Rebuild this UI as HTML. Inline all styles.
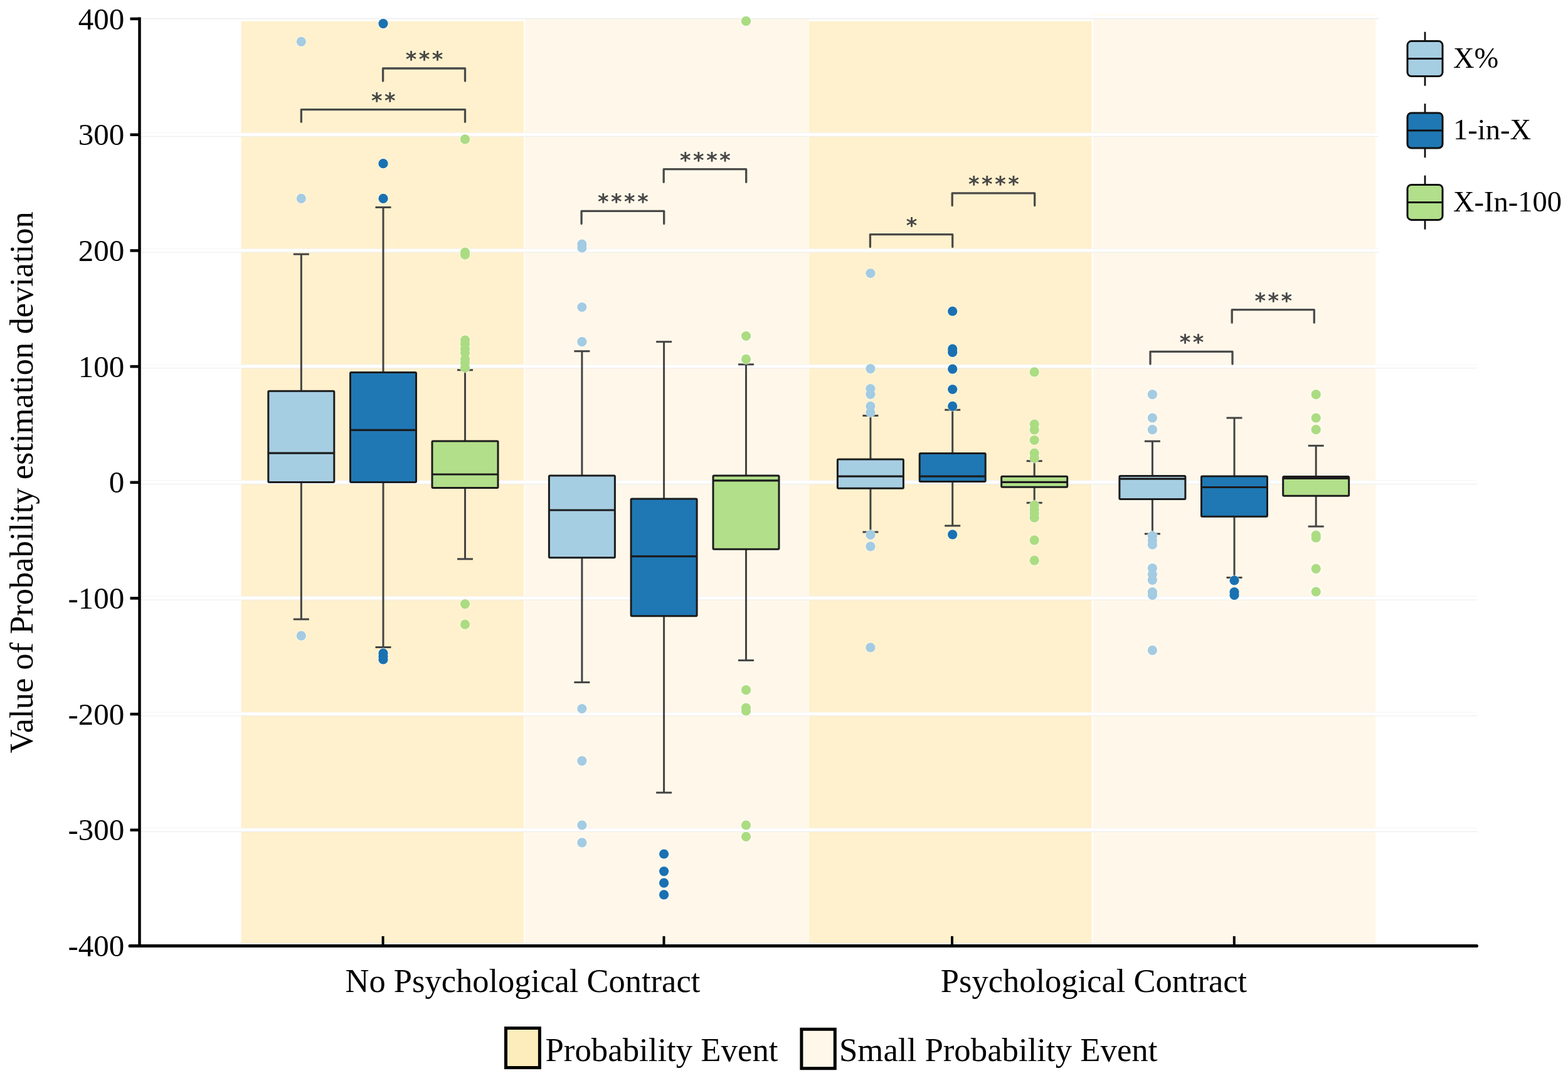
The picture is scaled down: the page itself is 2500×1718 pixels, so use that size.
<!DOCTYPE html>
<html><head><meta charset="utf-8"><title>Box plot</title>
<style>html,body{margin:0;padding:0;background:#fff;}body{width:2500px;height:1718px;overflow:hidden;}svg{display:block;}</style>
</head><body>
<svg width="2500" height="1718" viewBox="0 0 2500 1718">
<rect x="0" y="0" width="2500" height="1718" fill="#ffffff"/>
<rect x="384.5" y="34" width="450.8" height="1469.5" fill="#FFF1CD"/>
<rect x="837" y="30" width="452.7" height="1473.5" fill="#FFF8EA"/>
<rect x="1290" y="34" width="450.5" height="1469.5" fill="#FFF1CD"/>
<rect x="1742.8" y="30.6" width="450.5" height="1472.9" fill="#FFF8EA"/>
<rect x="1742.8" y="22.4" width="450.5" height="2.6" fill="#FFFBF0"/>
<rect x="225" y="29" width="1973" height="1.4" fill="#ececec"/>
<rect x="225" y="211.7" width="1973" height="5.4" fill="#ffffff"/>
<rect x="225" y="211.3" width="1973" height="0.7" fill="#f1f1f1"/>
<rect x="225" y="216.9" width="1973" height="1.0" fill="#ebebeb"/>
<rect x="225" y="396.4" width="1973" height="5.4" fill="#ffffff"/>
<rect x="225" y="396.0" width="1973" height="0.7" fill="#f1f1f1"/>
<rect x="225" y="401.6" width="1973" height="1.0" fill="#ebebeb"/>
<rect x="225" y="581.1" width="2130" height="5.4" fill="#ffffff"/>
<rect x="225" y="580.7" width="2130" height="0.7" fill="#f1f1f1"/>
<rect x="225" y="586.3" width="2130" height="1.0" fill="#ebebeb"/>
<rect x="225" y="765.8" width="2130" height="5.4" fill="#ffffff"/>
<rect x="225" y="765.4" width="2130" height="0.7" fill="#f1f1f1"/>
<rect x="225" y="771.0" width="2130" height="1.0" fill="#ebebeb"/>
<rect x="225" y="950.4" width="2130" height="5.4" fill="#ffffff"/>
<rect x="225" y="950.0" width="2130" height="0.7" fill="#f1f1f1"/>
<rect x="225" y="955.6" width="2130" height="1.0" fill="#ebebeb"/>
<rect x="225" y="1135.1" width="2130" height="5.4" fill="#ffffff"/>
<rect x="225" y="1134.7" width="2130" height="0.7" fill="#f1f1f1"/>
<rect x="225" y="1140.3" width="2130" height="1.0" fill="#ebebeb"/>
<rect x="225" y="1319.8" width="2130" height="5.4" fill="#ffffff"/>
<rect x="225" y="1319.4" width="2130" height="0.7" fill="#f1f1f1"/>
<rect x="225" y="1325.0" width="2130" height="1.0" fill="#ebebeb"/>
<line x1="480.3" y1="405.1" x2="480.3" y2="623.2" stroke="#434343" stroke-width="3"/>
<line x1="480.3" y1="768.6" x2="480.3" y2="986.9" stroke="#434343" stroke-width="3"/>
<line x1="467.8" y1="405.1" x2="492.8" y2="405.1" stroke="#434343" stroke-width="3"/>
<line x1="467.8" y1="986.9" x2="492.8" y2="986.9" stroke="#434343" stroke-width="3"/>
<rect x="427.8" y="623.2" width="105" height="145.4" rx="1.5" fill="#A6CEE3" stroke="#1c1c1c" stroke-width="3"/>
<line x1="427.8" y1="722.2" x2="532.8" y2="722.2" stroke="#1c1c1c" stroke-width="3.2"/>
<circle cx="480.3" cy="66.4" r="8.6" fill="#ffffff" fill-opacity="0.55"/>
<circle cx="480.3" cy="316.4" r="8.6" fill="#ffffff" fill-opacity="0.55"/>
<circle cx="480.3" cy="1013.2" r="8.6" fill="#ffffff" fill-opacity="0.55"/>
<circle cx="480.3" cy="66.4" r="7.6" fill="#A3CBE2"/>
<circle cx="480.3" cy="316.4" r="7.6" fill="#A3CBE2"/>
<circle cx="480.3" cy="1013.2" r="7.6" fill="#A3CBE2"/>
<line x1="611.0" y1="330.4" x2="611.0" y2="593.6" stroke="#434343" stroke-width="3"/>
<line x1="611.0" y1="768.6" x2="611.0" y2="1031.5" stroke="#434343" stroke-width="3"/>
<line x1="598.5" y1="330.4" x2="623.5" y2="330.4" stroke="#434343" stroke-width="3"/>
<line x1="598.5" y1="1031.5" x2="623.5" y2="1031.5" stroke="#434343" stroke-width="3"/>
<rect x="558.5" y="593.6" width="105" height="175.0" rx="1.5" fill="#1F78B4" stroke="#1c1c1c" stroke-width="3"/>
<line x1="558.5" y1="685.3" x2="663.5" y2="685.3" stroke="#1c1c1c" stroke-width="3.2"/>
<circle cx="611.0" cy="37.6" r="8.6" fill="#ffffff" fill-opacity="0.55"/>
<circle cx="611.0" cy="260.7" r="8.6" fill="#ffffff" fill-opacity="0.55"/>
<circle cx="611.0" cy="316.4" r="8.6" fill="#ffffff" fill-opacity="0.55"/>
<circle cx="611.0" cy="1041" r="8.6" fill="#ffffff" fill-opacity="0.55"/>
<circle cx="611.0" cy="1046" r="8.6" fill="#ffffff" fill-opacity="0.55"/>
<circle cx="611.0" cy="1051" r="8.6" fill="#ffffff" fill-opacity="0.55"/>
<circle cx="611.0" cy="37.6" r="7.6" fill="#1A71B1"/>
<circle cx="611.0" cy="260.7" r="7.6" fill="#1A71B1"/>
<circle cx="611.0" cy="316.4" r="7.6" fill="#1A71B1"/>
<circle cx="611.0" cy="1041" r="7.6" fill="#1A71B1"/>
<circle cx="611.0" cy="1046" r="7.6" fill="#1A71B1"/>
<circle cx="611.0" cy="1051" r="7.6" fill="#1A71B1"/>
<line x1="741.5" y1="589.7" x2="741.5" y2="702.9" stroke="#434343" stroke-width="3"/>
<line x1="741.5" y1="777.5" x2="741.5" y2="890.9" stroke="#434343" stroke-width="3"/>
<line x1="729.0" y1="589.7" x2="754.0" y2="589.7" stroke="#434343" stroke-width="3"/>
<line x1="729.0" y1="890.9" x2="754.0" y2="890.9" stroke="#434343" stroke-width="3"/>
<rect x="689.0" y="702.9" width="105" height="74.6" rx="1.5" fill="#B2DF8A" stroke="#1c1c1c" stroke-width="3"/>
<line x1="689.0" y1="756.0" x2="794.0" y2="756.0" stroke="#1c1c1c" stroke-width="3.2"/>
<circle cx="741.5" cy="221.9" r="8.6" fill="#ffffff" fill-opacity="0.55"/>
<circle cx="741.5" cy="402" r="8.6" fill="#ffffff" fill-opacity="0.55"/>
<circle cx="741.5" cy="406" r="8.6" fill="#ffffff" fill-opacity="0.55"/>
<circle cx="741.5" cy="542" r="8.6" fill="#ffffff" fill-opacity="0.55"/>
<circle cx="741.5" cy="548" r="8.6" fill="#ffffff" fill-opacity="0.55"/>
<circle cx="741.5" cy="556" r="8.6" fill="#ffffff" fill-opacity="0.55"/>
<circle cx="741.5" cy="562" r="8.6" fill="#ffffff" fill-opacity="0.55"/>
<circle cx="741.5" cy="572" r="8.6" fill="#ffffff" fill-opacity="0.55"/>
<circle cx="741.5" cy="578" r="8.6" fill="#ffffff" fill-opacity="0.55"/>
<circle cx="741.5" cy="586" r="8.6" fill="#ffffff" fill-opacity="0.55"/>
<circle cx="741.5" cy="962.6" r="8.6" fill="#ffffff" fill-opacity="0.55"/>
<circle cx="741.5" cy="995.1" r="8.6" fill="#ffffff" fill-opacity="0.55"/>
<circle cx="741.5" cy="221.9" r="7.6" fill="#ABDC82"/>
<circle cx="741.5" cy="402" r="7.6" fill="#ABDC82"/>
<circle cx="741.5" cy="406" r="7.6" fill="#ABDC82"/>
<circle cx="741.5" cy="542" r="7.6" fill="#ABDC82"/>
<circle cx="741.5" cy="548" r="7.6" fill="#ABDC82"/>
<circle cx="741.5" cy="556" r="7.6" fill="#ABDC82"/>
<circle cx="741.5" cy="562" r="7.6" fill="#ABDC82"/>
<circle cx="741.5" cy="572" r="7.6" fill="#ABDC82"/>
<circle cx="741.5" cy="578" r="7.6" fill="#ABDC82"/>
<circle cx="741.5" cy="586" r="7.6" fill="#ABDC82"/>
<circle cx="741.5" cy="962.6" r="7.6" fill="#ABDC82"/>
<circle cx="741.5" cy="995.1" r="7.6" fill="#ABDC82"/>
<line x1="927.9" y1="559.7" x2="927.9" y2="757.9" stroke="#434343" stroke-width="3"/>
<line x1="927.9" y1="888.7" x2="927.9" y2="1087.4" stroke="#434343" stroke-width="3"/>
<line x1="915.4" y1="559.7" x2="940.4" y2="559.7" stroke="#434343" stroke-width="3"/>
<line x1="915.4" y1="1087.4" x2="940.4" y2="1087.4" stroke="#434343" stroke-width="3"/>
<rect x="875.4" y="757.9" width="105" height="130.8" rx="1.5" fill="#A6CEE3" stroke="#1c1c1c" stroke-width="3"/>
<line x1="875.4" y1="813.0" x2="980.4" y2="813.0" stroke="#1c1c1c" stroke-width="3.2"/>
<circle cx="927.9" cy="389" r="8.6" fill="#ffffff" fill-opacity="0.55"/>
<circle cx="927.9" cy="395" r="8.6" fill="#ffffff" fill-opacity="0.55"/>
<circle cx="927.9" cy="489.5" r="8.6" fill="#ffffff" fill-opacity="0.55"/>
<circle cx="927.9" cy="544.7" r="8.6" fill="#ffffff" fill-opacity="0.55"/>
<circle cx="927.9" cy="1129.5" r="8.6" fill="#ffffff" fill-opacity="0.55"/>
<circle cx="927.9" cy="1212.6" r="8.6" fill="#ffffff" fill-opacity="0.55"/>
<circle cx="927.9" cy="1315" r="8.6" fill="#ffffff" fill-opacity="0.55"/>
<circle cx="927.9" cy="1342.9" r="8.6" fill="#ffffff" fill-opacity="0.55"/>
<circle cx="927.9" cy="389" r="7.6" fill="#A3CBE2"/>
<circle cx="927.9" cy="395" r="7.6" fill="#A3CBE2"/>
<circle cx="927.9" cy="489.5" r="7.6" fill="#A3CBE2"/>
<circle cx="927.9" cy="544.7" r="7.6" fill="#A3CBE2"/>
<circle cx="927.9" cy="1129.5" r="7.6" fill="#A3CBE2"/>
<circle cx="927.9" cy="1212.6" r="7.6" fill="#A3CBE2"/>
<circle cx="927.9" cy="1315" r="7.6" fill="#A3CBE2"/>
<circle cx="927.9" cy="1342.9" r="7.6" fill="#A3CBE2"/>
<line x1="1058.6" y1="544.7" x2="1058.6" y2="795.0" stroke="#434343" stroke-width="3"/>
<line x1="1058.6" y1="981.8" x2="1058.6" y2="1263.2" stroke="#434343" stroke-width="3"/>
<line x1="1046.1" y1="544.7" x2="1071.1" y2="544.7" stroke="#434343" stroke-width="3"/>
<line x1="1046.1" y1="1263.2" x2="1071.1" y2="1263.2" stroke="#434343" stroke-width="3"/>
<rect x="1006.1" y="795.0" width="105" height="186.8" rx="1.5" fill="#1F78B4" stroke="#1c1c1c" stroke-width="3"/>
<line x1="1006.1" y1="886.6" x2="1111.1" y2="886.6" stroke="#1c1c1c" stroke-width="3.2"/>
<circle cx="1058.6" cy="1361" r="8.6" fill="#ffffff" fill-opacity="0.55"/>
<circle cx="1058.6" cy="1388.6" r="8.6" fill="#ffffff" fill-opacity="0.55"/>
<circle cx="1058.6" cy="1407.2" r="8.6" fill="#ffffff" fill-opacity="0.55"/>
<circle cx="1058.6" cy="1425.9" r="8.6" fill="#ffffff" fill-opacity="0.55"/>
<circle cx="1058.6" cy="1361" r="7.6" fill="#1A71B1"/>
<circle cx="1058.6" cy="1388.6" r="7.6" fill="#1A71B1"/>
<circle cx="1058.6" cy="1407.2" r="7.6" fill="#1A71B1"/>
<circle cx="1058.6" cy="1425.9" r="7.6" fill="#1A71B1"/>
<line x1="1189.5" y1="580.8" x2="1189.5" y2="757.9" stroke="#434343" stroke-width="3"/>
<line x1="1189.5" y1="875.3" x2="1189.5" y2="1052.4" stroke="#434343" stroke-width="3"/>
<line x1="1177.0" y1="580.8" x2="1202.0" y2="580.8" stroke="#434343" stroke-width="3"/>
<line x1="1177.0" y1="1052.4" x2="1202.0" y2="1052.4" stroke="#434343" stroke-width="3"/>
<rect x="1137.0" y="757.9" width="105" height="117.4" rx="1.5" fill="#B2DF8A" stroke="#1c1c1c" stroke-width="3"/>
<line x1="1137.0" y1="765.8" x2="1242.0" y2="765.8" stroke="#1c1c1c" stroke-width="3.2"/>
<circle cx="1189.5" cy="33.7" r="8.6" fill="#ffffff" fill-opacity="0.55"/>
<circle cx="1189.5" cy="535.5" r="8.6" fill="#ffffff" fill-opacity="0.55"/>
<circle cx="1189.5" cy="572.4" r="8.6" fill="#ffffff" fill-opacity="0.55"/>
<circle cx="1189.5" cy="1099.7" r="8.6" fill="#ffffff" fill-opacity="0.55"/>
<circle cx="1189.5" cy="1128" r="8.6" fill="#ffffff" fill-opacity="0.55"/>
<circle cx="1189.5" cy="1133" r="8.6" fill="#ffffff" fill-opacity="0.55"/>
<circle cx="1189.5" cy="1315" r="8.6" fill="#ffffff" fill-opacity="0.55"/>
<circle cx="1189.5" cy="1333.4" r="8.6" fill="#ffffff" fill-opacity="0.55"/>
<circle cx="1189.5" cy="33.7" r="7.6" fill="#ABDC82"/>
<circle cx="1189.5" cy="535.5" r="7.6" fill="#ABDC82"/>
<circle cx="1189.5" cy="572.4" r="7.6" fill="#ABDC82"/>
<circle cx="1189.5" cy="1099.7" r="7.6" fill="#ABDC82"/>
<circle cx="1189.5" cy="1128" r="7.6" fill="#ABDC82"/>
<circle cx="1189.5" cy="1133" r="7.6" fill="#ABDC82"/>
<circle cx="1189.5" cy="1315" r="7.6" fill="#ABDC82"/>
<circle cx="1189.5" cy="1333.4" r="7.6" fill="#ABDC82"/>
<line x1="1387.9" y1="662.4" x2="1387.9" y2="732.1" stroke="#434343" stroke-width="3"/>
<line x1="1387.9" y1="778.2" x2="1387.9" y2="847.9" stroke="#434343" stroke-width="3"/>
<line x1="1375.4" y1="662.4" x2="1400.4" y2="662.4" stroke="#434343" stroke-width="3"/>
<line x1="1375.4" y1="847.9" x2="1400.4" y2="847.9" stroke="#434343" stroke-width="3"/>
<rect x="1335.4" y="732.1" width="105" height="46.1" rx="1.5" fill="#A6CEE3" stroke="#1c1c1c" stroke-width="3"/>
<line x1="1335.4" y1="759.2" x2="1440.4" y2="759.2" stroke="#1c1c1c" stroke-width="3.2"/>
<circle cx="1387.9" cy="435.5" r="8.6" fill="#ffffff" fill-opacity="0.55"/>
<circle cx="1387.9" cy="587.6" r="8.6" fill="#ffffff" fill-opacity="0.55"/>
<circle cx="1387.9" cy="619.5" r="8.6" fill="#ffffff" fill-opacity="0.55"/>
<circle cx="1387.9" cy="628.5" r="8.6" fill="#ffffff" fill-opacity="0.55"/>
<circle cx="1387.9" cy="647.4" r="8.6" fill="#ffffff" fill-opacity="0.55"/>
<circle cx="1387.9" cy="657" r="8.6" fill="#ffffff" fill-opacity="0.55"/>
<circle cx="1387.9" cy="852.4" r="8.6" fill="#ffffff" fill-opacity="0.55"/>
<circle cx="1387.9" cy="870.8" r="8.6" fill="#ffffff" fill-opacity="0.55"/>
<circle cx="1387.9" cy="1031.8" r="8.6" fill="#ffffff" fill-opacity="0.55"/>
<circle cx="1387.9" cy="435.5" r="7.6" fill="#A3CBE2"/>
<circle cx="1387.9" cy="587.6" r="7.6" fill="#A3CBE2"/>
<circle cx="1387.9" cy="619.5" r="7.6" fill="#A3CBE2"/>
<circle cx="1387.9" cy="628.5" r="7.6" fill="#A3CBE2"/>
<circle cx="1387.9" cy="647.4" r="7.6" fill="#A3CBE2"/>
<circle cx="1387.9" cy="657" r="7.6" fill="#A3CBE2"/>
<circle cx="1387.9" cy="852.4" r="7.6" fill="#A3CBE2"/>
<circle cx="1387.9" cy="870.8" r="7.6" fill="#A3CBE2"/>
<circle cx="1387.9" cy="1031.8" r="7.6" fill="#A3CBE2"/>
<line x1="1518.7" y1="653.2" x2="1518.7" y2="722.4" stroke="#434343" stroke-width="3"/>
<line x1="1518.7" y1="767.6" x2="1518.7" y2="837.9" stroke="#434343" stroke-width="3"/>
<line x1="1506.2" y1="653.2" x2="1531.2" y2="653.2" stroke="#434343" stroke-width="3"/>
<line x1="1506.2" y1="837.9" x2="1531.2" y2="837.9" stroke="#434343" stroke-width="3"/>
<rect x="1466.2" y="722.4" width="105" height="45.2" rx="1.5" fill="#1F78B4" stroke="#1c1c1c" stroke-width="3"/>
<line x1="1466.2" y1="759.2" x2="1571.2" y2="759.2" stroke="#1c1c1c" stroke-width="3.2"/>
<circle cx="1518.7" cy="496" r="8.6" fill="#ffffff" fill-opacity="0.55"/>
<circle cx="1518.7" cy="556" r="8.6" fill="#ffffff" fill-opacity="0.55"/>
<circle cx="1518.7" cy="561.5" r="8.6" fill="#ffffff" fill-opacity="0.55"/>
<circle cx="1518.7" cy="588.2" r="8.6" fill="#ffffff" fill-opacity="0.55"/>
<circle cx="1518.7" cy="620.5" r="8.6" fill="#ffffff" fill-opacity="0.55"/>
<circle cx="1518.7" cy="647.4" r="8.6" fill="#ffffff" fill-opacity="0.55"/>
<circle cx="1518.7" cy="851.8" r="8.6" fill="#ffffff" fill-opacity="0.55"/>
<circle cx="1518.7" cy="496" r="7.6" fill="#1A71B1"/>
<circle cx="1518.7" cy="556" r="7.6" fill="#1A71B1"/>
<circle cx="1518.7" cy="561.5" r="7.6" fill="#1A71B1"/>
<circle cx="1518.7" cy="588.2" r="7.6" fill="#1A71B1"/>
<circle cx="1518.7" cy="620.5" r="7.6" fill="#1A71B1"/>
<circle cx="1518.7" cy="647.4" r="7.6" fill="#1A71B1"/>
<circle cx="1518.7" cy="851.8" r="7.6" fill="#1A71B1"/>
<line x1="1649.2" y1="734.7" x2="1649.2" y2="759.2" stroke="#434343" stroke-width="3"/>
<line x1="1649.2" y1="776.3" x2="1649.2" y2="801.3" stroke="#434343" stroke-width="3"/>
<line x1="1636.7" y1="734.7" x2="1661.7" y2="734.7" stroke="#434343" stroke-width="3"/>
<line x1="1636.7" y1="801.3" x2="1661.7" y2="801.3" stroke="#434343" stroke-width="3"/>
<rect x="1596.7" y="759.2" width="105" height="17.1" rx="1.5" fill="#B2DF8A" stroke="#1c1c1c" stroke-width="3"/>
<line x1="1596.7" y1="768.4" x2="1701.7" y2="768.4" stroke="#1c1c1c" stroke-width="3.2"/>
<circle cx="1649.2" cy="592.9" r="8.6" fill="#ffffff" fill-opacity="0.55"/>
<circle cx="1649.2" cy="676" r="8.6" fill="#ffffff" fill-opacity="0.55"/>
<circle cx="1649.2" cy="685" r="8.6" fill="#ffffff" fill-opacity="0.55"/>
<circle cx="1649.2" cy="701.5" r="8.6" fill="#ffffff" fill-opacity="0.55"/>
<circle cx="1649.2" cy="722" r="8.6" fill="#ffffff" fill-opacity="0.55"/>
<circle cx="1649.2" cy="730" r="8.6" fill="#ffffff" fill-opacity="0.55"/>
<circle cx="1649.2" cy="805" r="8.6" fill="#ffffff" fill-opacity="0.55"/>
<circle cx="1649.2" cy="812" r="8.6" fill="#ffffff" fill-opacity="0.55"/>
<circle cx="1649.2" cy="818" r="8.6" fill="#ffffff" fill-opacity="0.55"/>
<circle cx="1649.2" cy="825" r="8.6" fill="#ffffff" fill-opacity="0.55"/>
<circle cx="1649.2" cy="860.8" r="8.6" fill="#ffffff" fill-opacity="0.55"/>
<circle cx="1649.2" cy="893.2" r="8.6" fill="#ffffff" fill-opacity="0.55"/>
<circle cx="1649.2" cy="592.9" r="7.6" fill="#ABDC82"/>
<circle cx="1649.2" cy="676" r="7.6" fill="#ABDC82"/>
<circle cx="1649.2" cy="685" r="7.6" fill="#ABDC82"/>
<circle cx="1649.2" cy="701.5" r="7.6" fill="#ABDC82"/>
<circle cx="1649.2" cy="722" r="7.6" fill="#ABDC82"/>
<circle cx="1649.2" cy="730" r="7.6" fill="#ABDC82"/>
<circle cx="1649.2" cy="805" r="7.6" fill="#ABDC82"/>
<circle cx="1649.2" cy="812" r="7.6" fill="#ABDC82"/>
<circle cx="1649.2" cy="818" r="7.6" fill="#ABDC82"/>
<circle cx="1649.2" cy="825" r="7.6" fill="#ABDC82"/>
<circle cx="1649.2" cy="860.8" r="7.6" fill="#ABDC82"/>
<circle cx="1649.2" cy="893.2" r="7.6" fill="#ABDC82"/>
<line x1="1837.4" y1="703.2" x2="1837.4" y2="758.6" stroke="#434343" stroke-width="3"/>
<line x1="1837.4" y1="795.5" x2="1837.4" y2="850.8" stroke="#434343" stroke-width="3"/>
<line x1="1824.9" y1="703.2" x2="1849.9" y2="703.2" stroke="#434343" stroke-width="3"/>
<line x1="1824.9" y1="850.8" x2="1849.9" y2="850.8" stroke="#434343" stroke-width="3"/>
<rect x="1784.9" y="758.6" width="105" height="36.9" rx="1.5" fill="#A6CEE3" stroke="#1c1c1c" stroke-width="3"/>
<line x1="1784.9" y1="763.2" x2="1889.9" y2="763.2" stroke="#1c1c1c" stroke-width="3.2"/>
<circle cx="1837.4" cy="628.7" r="8.6" fill="#ffffff" fill-opacity="0.55"/>
<circle cx="1837.4" cy="666" r="8.6" fill="#ffffff" fill-opacity="0.55"/>
<circle cx="1837.4" cy="684.7" r="8.6" fill="#ffffff" fill-opacity="0.55"/>
<circle cx="1837.4" cy="854" r="8.6" fill="#ffffff" fill-opacity="0.55"/>
<circle cx="1837.4" cy="861" r="8.6" fill="#ffffff" fill-opacity="0.55"/>
<circle cx="1837.4" cy="868" r="8.6" fill="#ffffff" fill-opacity="0.55"/>
<circle cx="1837.4" cy="905.5" r="8.6" fill="#ffffff" fill-opacity="0.55"/>
<circle cx="1837.4" cy="915.3" r="8.6" fill="#ffffff" fill-opacity="0.55"/>
<circle cx="1837.4" cy="924.5" r="8.6" fill="#ffffff" fill-opacity="0.55"/>
<circle cx="1837.4" cy="943.5" r="8.6" fill="#ffffff" fill-opacity="0.55"/>
<circle cx="1837.4" cy="948.5" r="8.6" fill="#ffffff" fill-opacity="0.55"/>
<circle cx="1837.4" cy="1036.3" r="8.6" fill="#ffffff" fill-opacity="0.55"/>
<circle cx="1837.4" cy="628.7" r="7.6" fill="#A3CBE2"/>
<circle cx="1837.4" cy="666" r="7.6" fill="#A3CBE2"/>
<circle cx="1837.4" cy="684.7" r="7.6" fill="#A3CBE2"/>
<circle cx="1837.4" cy="854" r="7.6" fill="#A3CBE2"/>
<circle cx="1837.4" cy="861" r="7.6" fill="#A3CBE2"/>
<circle cx="1837.4" cy="868" r="7.6" fill="#A3CBE2"/>
<circle cx="1837.4" cy="905.5" r="7.6" fill="#A3CBE2"/>
<circle cx="1837.4" cy="915.3" r="7.6" fill="#A3CBE2"/>
<circle cx="1837.4" cy="924.5" r="7.6" fill="#A3CBE2"/>
<circle cx="1837.4" cy="943.5" r="7.6" fill="#A3CBE2"/>
<circle cx="1837.4" cy="948.5" r="7.6" fill="#A3CBE2"/>
<circle cx="1837.4" cy="1036.3" r="7.6" fill="#A3CBE2"/>
<line x1="1968.0" y1="666.0" x2="1968.0" y2="759.0" stroke="#434343" stroke-width="3"/>
<line x1="1968.0" y1="823.2" x2="1968.0" y2="920.5" stroke="#434343" stroke-width="3"/>
<line x1="1955.5" y1="666.0" x2="1980.5" y2="666.0" stroke="#434343" stroke-width="3"/>
<line x1="1955.5" y1="920.5" x2="1980.5" y2="920.5" stroke="#434343" stroke-width="3"/>
<rect x="1915.5" y="759.0" width="105" height="64.2" rx="1.5" fill="#1F78B4" stroke="#1c1c1c" stroke-width="3"/>
<line x1="1915.5" y1="776.5" x2="2020.5" y2="776.5" stroke="#1c1c1c" stroke-width="3.2"/>
<circle cx="1968.0" cy="925" r="8.6" fill="#ffffff" fill-opacity="0.55"/>
<circle cx="1968.0" cy="943.5" r="8.6" fill="#ffffff" fill-opacity="0.55"/>
<circle cx="1968.0" cy="948.5" r="8.6" fill="#ffffff" fill-opacity="0.55"/>
<circle cx="1968.0" cy="925" r="7.6" fill="#1A71B1"/>
<circle cx="1968.0" cy="943.5" r="7.6" fill="#1A71B1"/>
<circle cx="1968.0" cy="948.5" r="7.6" fill="#1A71B1"/>
<line x1="2098.2" y1="710.3" x2="2098.2" y2="759.5" stroke="#434343" stroke-width="3"/>
<line x1="2098.2" y1="790.3" x2="2098.2" y2="839.0" stroke="#434343" stroke-width="3"/>
<line x1="2085.7" y1="710.3" x2="2110.7" y2="710.3" stroke="#434343" stroke-width="3"/>
<line x1="2085.7" y1="839.0" x2="2110.7" y2="839.0" stroke="#434343" stroke-width="3"/>
<rect x="2045.7" y="759.5" width="105" height="30.8" rx="1.5" fill="#B2DF8A" stroke="#1c1c1c" stroke-width="3"/>
<line x1="2045.7" y1="762.3" x2="2150.7" y2="762.3" stroke="#1c1c1c" stroke-width="3.2"/>
<circle cx="2098.2" cy="628.7" r="8.6" fill="#ffffff" fill-opacity="0.55"/>
<circle cx="2098.2" cy="666" r="8.6" fill="#ffffff" fill-opacity="0.55"/>
<circle cx="2098.2" cy="684.7" r="8.6" fill="#ffffff" fill-opacity="0.55"/>
<circle cx="2098.2" cy="853" r="8.6" fill="#ffffff" fill-opacity="0.55"/>
<circle cx="2098.2" cy="857" r="8.6" fill="#ffffff" fill-opacity="0.55"/>
<circle cx="2098.2" cy="906.3" r="8.6" fill="#ffffff" fill-opacity="0.55"/>
<circle cx="2098.2" cy="943" r="8.6" fill="#ffffff" fill-opacity="0.55"/>
<circle cx="2098.2" cy="628.7" r="7.6" fill="#ABDC82"/>
<circle cx="2098.2" cy="666" r="7.6" fill="#ABDC82"/>
<circle cx="2098.2" cy="684.7" r="7.6" fill="#ABDC82"/>
<circle cx="2098.2" cy="853" r="7.6" fill="#ABDC82"/>
<circle cx="2098.2" cy="857" r="7.6" fill="#ABDC82"/>
<circle cx="2098.2" cy="906.3" r="7.6" fill="#ABDC82"/>
<circle cx="2098.2" cy="943" r="7.6" fill="#ABDC82"/>
<path d="M610.6 129.0 L610.6 109.0 L741.5 109.0 L741.5 129.0" fill="none" stroke="#4a4a4a" stroke-width="3.3" stroke-linejoin="round" stroke-linecap="round"/>
<text x="646.7 667.8 688.8" y="106.0" font-family="DejaVu Sans, sans-serif" font-weight="bold" font-size="33.5" fill="#474747">***</text>
<path d="M480.3 194.3 L480.3 174.7 L741.5 174.7 L741.5 194.3" fill="none" stroke="#4a4a4a" stroke-width="3.3" stroke-linejoin="round" stroke-linecap="round"/>
<text x="592.1 613.1" y="171.7" font-family="DejaVu Sans, sans-serif" font-weight="bold" font-size="33.5" fill="#474747">**</text>
<path d="M927.1 356.6 L927.1 336.3 L1058.7 336.3 L1058.7 356.6" fill="none" stroke="#4a4a4a" stroke-width="3.3" stroke-linejoin="round" stroke-linecap="round"/>
<text x="953.0 974.1 995.1 1016.2" y="333.3" font-family="DejaVu Sans, sans-serif" font-weight="bold" font-size="33.5" fill="#474747">****</text>
<path d="M1058.2 290.3 L1058.2 269.7 L1189.7 269.7 L1189.7 290.3" fill="none" stroke="#4a4a4a" stroke-width="3.3" stroke-linejoin="round" stroke-linecap="round"/>
<text x="1084.0 1105.1 1126.2 1147.3" y="266.7" font-family="DejaVu Sans, sans-serif" font-weight="bold" font-size="33.5" fill="#474747">****</text>
<path d="M1387.4 393.4 L1387.4 373.7 L1518.7 373.7 L1518.7 393.4" fill="none" stroke="#4a4a4a" stroke-width="3.3" stroke-linejoin="round" stroke-linecap="round"/>
<text x="1444.8" y="370.7" font-family="DejaVu Sans, sans-serif" font-weight="bold" font-size="33.5" fill="#474747">*</text>
<path d="M1518.2 327.6 L1518.2 307.9 L1649.7 307.9 L1649.7 327.6" fill="none" stroke="#4a4a4a" stroke-width="3.3" stroke-linejoin="round" stroke-linecap="round"/>
<text x="1544.0 1565.1 1586.2 1607.3" y="304.9" font-family="DejaVu Sans, sans-serif" font-weight="bold" font-size="33.5" fill="#474747">****</text>
<path d="M1834.0 580.0 L1834.0 560.3 L1965.0 560.3 L1965.0 580.0" fill="none" stroke="#4a4a4a" stroke-width="3.3" stroke-linejoin="round" stroke-linecap="round"/>
<text x="1880.7 1901.7" y="557.3" font-family="DejaVu Sans, sans-serif" font-weight="bold" font-size="33.5" fill="#474747">**</text>
<path d="M1964.2 514.2 L1964.2 493.7 L2095.3 493.7 L2095.3 514.2" fill="none" stroke="#4a4a4a" stroke-width="3.3" stroke-linejoin="round" stroke-linecap="round"/>
<text x="2000.4 2021.5 2042.5" y="490.7" font-family="DejaVu Sans, sans-serif" font-weight="bold" font-size="33.5" fill="#474747">***</text>
<line x1="222.5" y1="27.5" x2="222.5" y2="1510" stroke="#000" stroke-width="4.5"/>
<line x1="207" y1="1507.5" x2="2354.5" y2="1507.5" stroke="#000" stroke-width="5" stroke-linecap="round"/>
<line x1="207.5" y1="30.0" x2="222.5" y2="30.0" stroke="#000" stroke-width="4.5"/>
<text x="198.3" y="46.5" text-anchor="end" font-family="Liberation Serif, Times New Roman, serif" font-size="49" fill="#000">400</text>
<line x1="207.5" y1="214.7" x2="222.5" y2="214.7" stroke="#000" stroke-width="4.5"/>
<text x="198.3" y="231.2" text-anchor="end" font-family="Liberation Serif, Times New Roman, serif" font-size="49" fill="#000">300</text>
<line x1="207.5" y1="399.4" x2="222.5" y2="399.4" stroke="#000" stroke-width="4.5"/>
<text x="198.3" y="415.9" text-anchor="end" font-family="Liberation Serif, Times New Roman, serif" font-size="49" fill="#000">200</text>
<line x1="207.5" y1="584.1" x2="222.5" y2="584.1" stroke="#000" stroke-width="4.5"/>
<text x="198.3" y="600.6" text-anchor="end" font-family="Liberation Serif, Times New Roman, serif" font-size="49" fill="#000">100</text>
<line x1="207.5" y1="768.8" x2="222.5" y2="768.8" stroke="#000" stroke-width="4.5"/>
<text x="198.3" y="785.2" text-anchor="end" font-family="Liberation Serif, Times New Roman, serif" font-size="49" fill="#000">0</text>
<line x1="207.5" y1="953.4" x2="222.5" y2="953.4" stroke="#000" stroke-width="4.5"/>
<text x="198.3" y="969.9" text-anchor="end" font-family="Liberation Serif, Times New Roman, serif" font-size="49" fill="#000">-100</text>
<line x1="207.5" y1="1138.1" x2="222.5" y2="1138.1" stroke="#000" stroke-width="4.5"/>
<text x="198.3" y="1154.6" text-anchor="end" font-family="Liberation Serif, Times New Roman, serif" font-size="49" fill="#000">-200</text>
<line x1="207.5" y1="1322.8" x2="222.5" y2="1322.8" stroke="#000" stroke-width="4.5"/>
<text x="198.3" y="1339.3" text-anchor="end" font-family="Liberation Serif, Times New Roman, serif" font-size="49" fill="#000">-300</text>
<line x1="207.5" y1="1507.5" x2="222.5" y2="1507.5" stroke="#000" stroke-width="4.5"/>
<text x="198.3" y="1524.0" text-anchor="end" font-family="Liberation Serif, Times New Roman, serif" font-size="49" fill="#000">-400</text>
<line x1="610.6" y1="1492" x2="610.6" y2="1507" stroke="#000" stroke-width="4"/>
<line x1="1058.5" y1="1492" x2="1058.5" y2="1507" stroke="#000" stroke-width="4"/>
<line x1="1518.0" y1="1492" x2="1518.0" y2="1507" stroke="#000" stroke-width="4"/>
<line x1="1967.8" y1="1492" x2="1967.8" y2="1507" stroke="#000" stroke-width="4"/>
<text x="833.4" y="1580.8" text-anchor="middle" font-family="Liberation Serif, Times New Roman, serif" font-size="52.5" fill="#000">No Psychological Contract</text>
<text x="1744" y="1580.8" text-anchor="middle" font-family="Liberation Serif, Times New Roman, serif" font-size="52.5" fill="#000">Psychological Contract</text>
<text transform="translate(52,768.75) rotate(-90)" x="0" y="0" text-anchor="middle" font-family="Liberation Serif, Times New Roman, serif" font-size="52.5" fill="#000">Value of Probability estimation deviation</text>
<rect x="806.5" y="1638.5" width="53.9" height="63" fill="#FDEDBD" stroke="#000" stroke-width="5"/>
<text x="869.5" y="1690.6" font-family="Liberation Serif, Times New Roman, serif" font-size="52.8" fill="#000">Probability Event</text>
<rect x="1277.9" y="1640.3" width="53.4" height="62.4" fill="#FFF8EA" stroke="#000" stroke-width="5"/>
<text x="1338" y="1690.6" font-family="Liberation Serif, Times New Roman, serif" font-size="52.8" fill="#000">Small Probability Event</text>
<line x1="2272" y1="50.8" x2="2272" y2="136.8" stroke="#111" stroke-width="2.8"/>
<rect x="2244" y="65.6" width="56" height="56" rx="6.5" fill="#A6CEE3" stroke="#111" stroke-width="3"/>
<line x1="2244" y1="93.6" x2="2300" y2="93.6" stroke="#111" stroke-width="3"/>
<text x="2317" y="107.9" font-family="Liberation Serif, Times New Roman, serif" font-size="46.5" fill="#000">X%</text>
<line x1="2272" y1="165.2" x2="2272" y2="251.2" stroke="#111" stroke-width="2.8"/>
<rect x="2244" y="180.0" width="56" height="56" rx="6.5" fill="#1F78B4" stroke="#111" stroke-width="3"/>
<line x1="2244" y1="208.0" x2="2300" y2="208.0" stroke="#111" stroke-width="3"/>
<text x="2317" y="222.3" font-family="Liberation Serif, Times New Roman, serif" font-size="46.5" fill="#000">1-in-X</text>
<line x1="2272" y1="279.6" x2="2272" y2="365.6" stroke="#111" stroke-width="2.8"/>
<rect x="2244" y="294.4" width="56" height="56" rx="6.5" fill="#B2DF8A" stroke="#111" stroke-width="3"/>
<line x1="2244" y1="322.4" x2="2300" y2="322.4" stroke="#111" stroke-width="3"/>
<text x="2317" y="336.7" font-family="Liberation Serif, Times New Roman, serif" font-size="46.5" fill="#000">X-In-100</text>
</svg>
</body></html>
